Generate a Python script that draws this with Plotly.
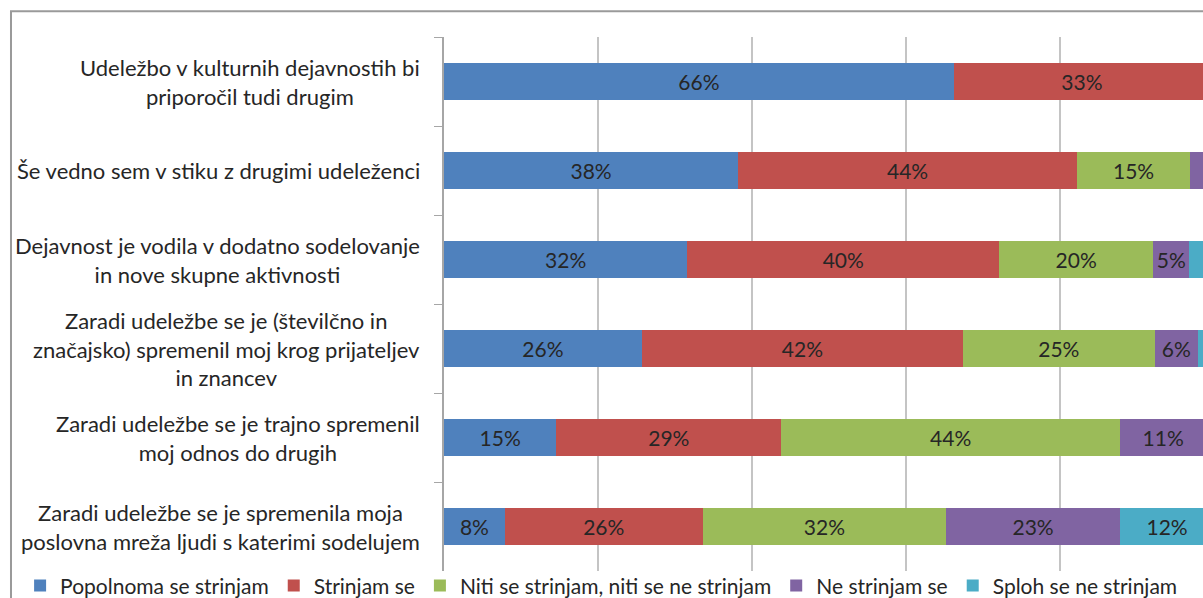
import plotly.graph_objects as go

# categories, top to bottom
statements = [
    "Udeležbo v kulturnih dejavnostih bi<br>priporočil tudi drugim",
    "Še vedno sem v stiku z drugimi udeleženci",
    "Dejavnost je vodila v dodatno sodelovanje<br>in nove skupne aktivnosti",
    "Zaradi udeležbe se je (številčno in<br>značajsko) spremenil moj krog prijateljev<br>in znancev",
    "Zaradi udeležbe se je trajno spremenil<br>moj odnos do drugih",
    "Zaradi udeležbe se je spremenila moja<br>poslovna mreža ljudi s katerimi sodelujem",
]

# shares in %
popolnoma = [66.2, 38.2, 31.6, 25.7, 14.6, 7.9]
strinjam = [33.3, 44.0, 40.5, 41.7, 29.2, 25.7]
niti = [0.5, 14.7, 20.0, 24.9, 44.0, 31.6]
ne_strinjam = [0.0, 2.2, 4.7, 5.6, 11.2, 22.6]
sploh_ne = [0.0, 0.9, 3.2, 2.1, 1.0, 12.2]

series = [
    ("Popolnoma se strinjam", popolnoma, "#4F81BD"),
    ("Strinjam se", strinjam, "#C0504D"),
    ("Niti se strinjam, niti se ne strinjam", niti, "#9BBB59"),
    ("Ne strinjam se", ne_strinjam, "#8064A2"),
    ("Sploh se ne strinjam", sploh_ne, "#4BACC6"),
]

FONT = "Lato"
TEXT = "#262626"

fig = go.Figure()
for name, vals, color in series:
    fig.add_trace(go.Bar(
        y=statements, x=vals, name=name, orientation="h",
        marker=dict(color=color, line=dict(width=0)),
        text=[f"{v:.0f}%" if v >= 4 else "" for v in vals],
        textposition="inside", insidetextanchor="middle",
        textfont=dict(family=FONT, size=21, color=TEXT),
        constraintext="none",
    ))

# category labels as centered multi-line text blocks
for s in statements:
    fig.add_annotation(
        x=0, xref="paper", y=s, yref="y", xanchor="right", xshift=-22,
        text=s, align="center", showarrow=False,
        font=dict(family=FONT, size=22, color=TEXT),
    )

# outer chart border
fig.add_shape(type="rect", xref="paper", yref="paper",
              x0=-0.5705, x1=1.1, y0=-0.2, y1=1.048,
              line=dict(color="#9a9a9a", width=2), layer="below")

fig.update_layout(
    width=1203, height=598,
    margin=dict(l=444, r=0, t=37, b=27, autoexpand=False),
    barmode="stack", bargap=0.585,
    paper_bgcolor="white", plot_bgcolor="white",
    xaxis=dict(range=[0, 98.57], dtick=20, showgrid=True, gridcolor="#C4C4C4",
               gridwidth=1.5, showticklabels=False, zeroline=False, showline=False),
    yaxis=dict(type="category", autorange="reversed", showticklabels=False,
               showline=True, linecolor="#A6A6A6", linewidth=1.5,
               ticks="outside", tickson="boundaries", ticklen=8, tickcolor="#A6A6A6",
               showgrid=False),
    legend=dict(orientation="h", x=-0.5585, xanchor="left", y=-0.028, yanchor="middle",
                font=dict(family=FONT, size=21, color=TEXT),
                traceorder="normal", bgcolor="rgba(0,0,0,0)"),
)

# drop the default page margin so the figure fills the window exactly
fig.write_html("out.html", config={"displayModeBar": False},
               post_script="document.body.style.margin='0';document.body.style.overflow='hidden';")
